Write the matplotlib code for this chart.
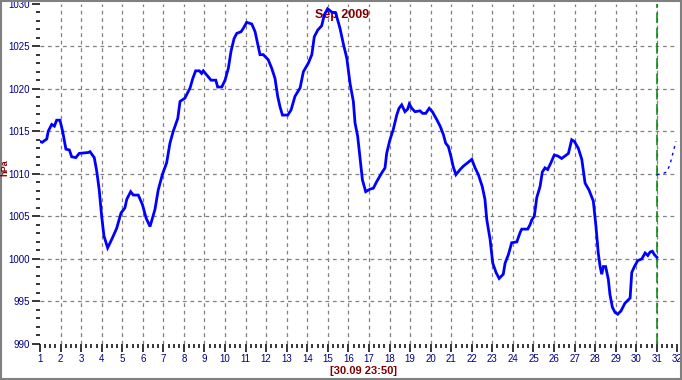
import matplotlib
matplotlib.use("Agg")
import matplotlib.pyplot as plt
from matplotlib.patches import Rectangle
from matplotlib.ticker import MultipleLocator

# ── Data ──────────────────────────────────────────────────────────────────
day = [1.00, 1.11, 1.33, 1.40, 1.57, 1.70, 1.81, 1.97, 2.10, 2.26, 2.43, 2.54,
       2.74, 2.91, 3.35, 3.43, 3.64, 3.76, 3.88, 4.00, 4.11, 4.29, 4.49, 4.73,
       4.94, 5.13, 5.22, 5.41, 5.54, 5.78, 5.98, 6.16, 6.35, 6.59, 6.75, 6.95,
       7.16, 7.32, 7.48, 7.70, 7.81, 8.05, 8.30, 8.43, 8.57, 8.75, 8.86, 8.94,
       9.11, 9.32, 9.55, 9.64, 9.84, 10.00, 10.16, 10.29, 10.44, 10.57, 10.78,
       10.89, 11.05, 11.30, 11.46, 11.62, 11.70, 11.86, 12.10, 12.27, 12.43,
       12.56, 12.67, 12.79, 13.05, 13.21, 13.40, 13.65, 13.81, 14.05, 14.22,
       14.34, 14.51, 14.70, 14.83, 14.99, 15.19, 15.38, 15.59, 15.75, 15.92,
       16.08, 16.24, 16.32, 16.45, 16.56, 16.68, 16.84, 17.05, 17.21, 17.38,
       17.62, 17.78, 17.86, 18.02, 18.18, 18.35, 18.46, 18.59, 18.75, 18.88,
       18.96, 19.08, 19.24, 19.48, 19.61, 19.76, 19.93, 20.08, 20.29, 20.46,
       20.62, 20.73, 20.86, 20.99, 21.10, 21.23, 21.43, 21.59, 21.80, 22.00,
       22.16, 22.32, 22.51, 22.64, 22.73, 22.89, 23.02, 23.18, 23.33, 23.53,
       23.62, 23.78, 23.94, 24.19, 24.35, 24.43, 24.72, 24.83, 24.92, 25.04,
       25.16, 25.32, 25.43, 25.56, 25.69, 25.85, 26.01, 26.18, 26.37, 26.54,
       26.70, 26.86, 26.99, 27.18, 27.35, 27.51, 27.70, 27.91, 28.04, 28.15,
       28.24, 28.32, 28.40, 28.51, 28.64, 28.72, 28.84, 28.97, 29.10, 29.26,
       29.45, 29.70, 29.78, 29.91, 30.07, 30.27, 30.43, 30.56, 30.67, 30.78,
       30.88, 31.00]
hpa = [1013.8, 1013.7, 1014.1, 1015.0, 1015.8, 1015.6, 1016.3, 1016.3, 1015.0,
       1012.9, 1012.8, 1012.0, 1011.9, 1012.4, 1012.5, 1012.6, 1011.9, 1010.3,
       1008.1, 1005.0, 1002.7, 1001.3, 1002.3, 1003.6, 1005.4, 1006.0, 1007.0,
       1007.9, 1007.5, 1007.5, 1006.4, 1004.8, 1003.8, 1005.8, 1008.1, 1009.9,
       1011.3, 1013.6, 1015.0, 1016.5, 1018.5, 1018.9, 1020.1, 1021.2, 1022.1,
       1022.1, 1021.8, 1022.1, 1021.6, 1021.0, 1021.0, 1020.2, 1020.2, 1021.0,
       1022.4, 1024.4, 1025.9, 1026.5, 1026.7, 1027.1, 1027.8, 1027.6, 1026.7,
       1024.9, 1024.0, 1024.0, 1023.4, 1022.4, 1021.2, 1019.1, 1017.9, 1016.9,
       1016.9, 1017.5, 1019.1, 1020.1, 1022.0, 1023.0, 1024.0, 1026.1, 1026.9,
       1027.4, 1028.7, 1029.4, 1029.0, 1028.9, 1027.1, 1025.3, 1023.6, 1020.6,
       1018.5, 1016.0, 1014.4, 1012.0, 1009.3, 1007.9, 1008.2, 1008.3, 1009.1,
       1010.1, 1010.7, 1012.4, 1014.0, 1015.2, 1016.9, 1017.7, 1018.1, 1017.3,
       1017.6, 1018.2, 1017.7, 1017.3, 1017.4, 1017.1, 1017.1, 1017.7, 1017.3,
       1016.4, 1015.6, 1014.6, 1013.6, 1013.2, 1012.0, 1010.8, 1009.9, 1010.5,
       1010.9, 1011.3, 1011.7, 1010.7, 1009.9, 1008.5, 1007.0, 1004.6, 1002.3,
       999.5, 998.4, 997.7, 998.2, 999.5, 1000.5, 1001.9, 1002.0, 1003.1,
       1003.5, 1003.5, 1004.0, 1004.6, 1005.0, 1007.2, 1008.5, 1010.2, 1010.7,
       1010.5, 1011.3, 1012.2, 1012.1, 1011.8, 1012.1, 1012.4, 1014.0, 1013.8,
       1013.0, 1011.7, 1008.9, 1008.1, 1006.8, 1003.8, 1000.7, 999.1, 998.2,
       999.1, 999.1, 997.6, 995.8, 994.3, 993.7, 993.5, 993.9, 994.8, 995.4,
       998.4, 999.1, 999.8, 1000.0, 1000.7, 1000.4, 1000.8, 1000.9, 1000.5,
       1000.2]

# forecast after the "now" marker
fc_day = [31.00, 31.24, 31.48, 31.64, 31.80, 31.93]
fc_hpa = [1009.9, 1010.0, 1010.2, 1011.1, 1012.6, 1013.8]

now_day = 31
x_labels = [str(d) for d in range(1, 33)]
NAVY, DARKRED = "#000080", "#800000"

# ── Figure ────────────────────────────────────────────────────────────────
fig = plt.figure(figsize=(6.82, 3.80), dpi=100, facecolor="white")
ax = fig.add_axes([40 / 682, 36 / 380, 637.4 / 682, 340.4 / 380])
ax.set_xlim(1, 32)
ax.set_ylim(990, 1030)
for s in ax.spines.values():
    s.set_visible(False)

# dashed grid, interior only
for d in range(2, 32):
    ax.axvline(d, color="#808080", lw=0.9, ls=(0, (3, 3)), zorder=1)
for p in range(995, 1030, 5):
    ax.axhline(p, color="#808080", lw=0.9, ls=(0, (3, 3)), zorder=1)

ax.plot(day, hpa, color="#0000ff", lw=2.0, zorder=3, solid_joinstyle="miter")
ax.plot(fc_day, fc_hpa, color="#0000ff", lw=1.0, ls=(0, (2, 3)), zorder=3)
ax.axvline(now_day, color="#008000", lw=1.1, ls=(0, (7, 3)), zorder=2)

ax.set_xticks(range(1, 33))
ax.set_xticklabels(x_labels)
ax.xaxis.set_minor_locator(MultipleLocator(0.25))
ax.yaxis.set_major_locator(MultipleLocator(5))
ax.yaxis.set_minor_locator(MultipleLocator(1))
ax.tick_params(which="major", direction="out", length=6, width=1.1,
               color="black", labelcolor=NAVY, labelsize=7, pad=1)
ax.tick_params(which="minor", direction="out", length=3, width=1.1, color="black")
for lab in ax.get_xticklabels() + ax.get_yticklabels():
    lab.set_family("Liberation Sans")

ax.text(0.474, 0.985, "Sep 2009", transform=ax.transAxes, ha="center", va="top",
        color=DARKRED, fontsize=9, fontweight="bold", family="Liberation Sans",
        zorder=2)
fig.text(363 / 682, 1 - 376 / 380, "[30.09 23:50]", ha="center", va="bottom",
         color=DARKRED, fontsize=8, fontweight="bold", family="Liberation Sans")
fig.text(5 / 682, 1 - 168 / 380, "hPa", ha="center", va="center", rotation=90,
         color=DARKRED, fontsize=6.5, fontweight="bold", family="Liberation Sans")

# grey frame round the picture
fig.patches.append(Rectangle((0.5 / 682, 1.5 / 380), 680 / 682, 377.5 / 380,
                             transform=fig.transFigure, fill=False,
                             edgecolor="#808080", lw=1.5))

plt.savefig("out.png", dpi=100)
